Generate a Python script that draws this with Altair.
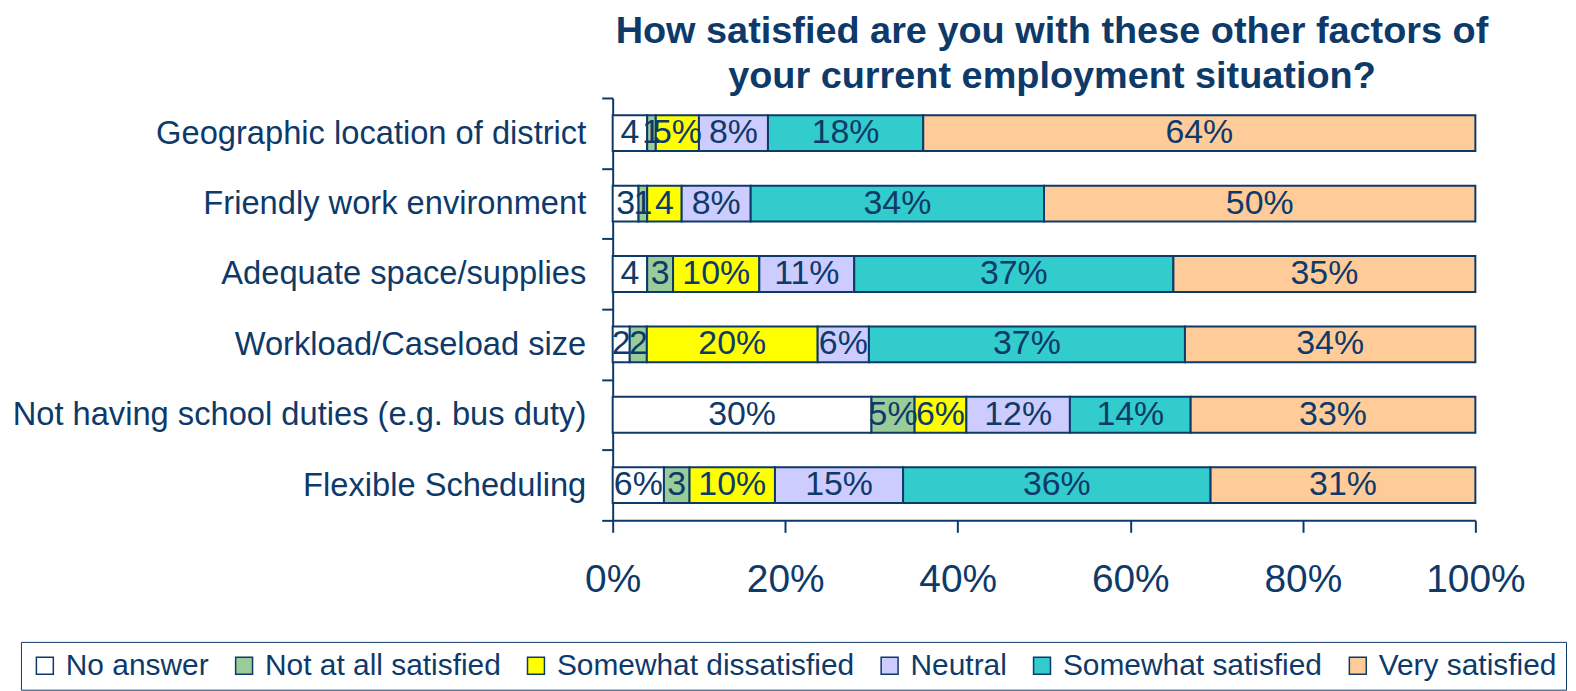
import altair as alt
import pandas as pd

factors = [
    "Geographic location of district",
    "Friendly work environment",
    "Adequate space/supplies",
    "Workload/Caseload size",
    "Not having school duties (e.g. bus duty)",
    "Flexible Scheduling",
]
responses = [
    "No answer",
    "Not at all satisfied",
    "Somewhat dissatisfied",
    "Neutral",
    "Somewhat satisfied",
    "Very satisfied",
]
colors = ["#FFFFFF", "#99CC99", "#FFFF00", "#CCCCFF", "#33CCCC", "#FFCC99"]

# percentages per response, in factor order
no_answer = [4, 3, 4, 2, 30, 6]
not_at_all = [1, 1, 3, 2, 5, 3]
somewhat_dis = [5, 4, 10, 20, 6, 10]
neutral = [8, 8, 11, 6, 12, 15]
somewhat_sat = [18, 34, 37, 37, 14, 36]
very_sat = [64, 50, 35, 34, 33, 31]

# data labels as printed on the chart
no_answer_lbl = ["4", "3", "4", "2", "30%", "6%"]
not_at_all_lbl = ["1", "1", "3", "2", "5%", "3"]
somewhat_dis_lbl = ["5%", "4", "10%", "20%", "6%", "10%"]
neutral_lbl = ["8%", "8%", "11%", "6%", "12%", "15%"]
somewhat_sat_lbl = ["18%", "34%", "37%", "37%", "14%", "36%"]
very_sat_lbl = ["64%", "50%", "35%", "34%", "33%", "31%"]

series = [no_answer, not_at_all, somewhat_dis, neutral, somewhat_sat, very_sat]
labels = [no_answer_lbl, not_at_all_lbl, somewhat_dis_lbl, neutral_lbl,
          somewhat_sat_lbl, very_sat_lbl]

rows = []
for i, f in enumerate(factors):
    for j, r in enumerate(responses):
        rows.append(dict(factor=f, response=r, order=j,
                         value=series[j][i], label=labels[j][i]))
df = pd.DataFrame(rows)

navy = "#0E3A6A"
FONT = "Liberation Sans"

base = alt.Chart(df).transform_stack(
    stack="value",
    groupby=["factor"],
    as_=["s", "e"],
    offset="normalize",
    sort=[alt.SortField("order", order="ascending")],
).transform_calculate(mid="(datum.s + datum.e) / 2")

y_scale = alt.Scale(paddingInner=0, paddingOuter=0)

y_enc = alt.Y(
    "factor:N",
    sort=factors,
    title=None,
    scale=y_scale,
    axis=alt.Axis(
        tickBand="extent",
        labelFontSize=32.8,
        labelColor=navy,
        labelFont=FONT,
        labelPadding=16,
        labelLimit=700,
        tickSize=11,
        tickColor=navy,
        tickWidth=2,
        domainColor=navy,
        domainWidth=2,
    ),
)

x_scale = alt.Scale(domain=[0, 1], nice=False)

bars = base.mark_bar(stroke=navy, strokeWidth=2, height=36).encode(
    x=alt.X(
        "s:Q",
        scale=x_scale,
        title=None,
        axis=alt.Axis(
            values=[0, 0.2, 0.4, 0.6, 0.8, 1.0],
            format="%",
            labelFontSize=39,
            labelColor=navy,
            labelFont=FONT,
            labelPadding=28,
            labelFlush=False,
            labelOverlap=False,
            tickSize=12,
            tickColor=navy,
            tickWidth=2,
            domainColor=navy,
            domainWidth=2,
            grid=False,
        ),
    ),
    x2="e:Q",
    y=y_enc,
    color=alt.Color(
        "response:N",
        scale=alt.Scale(domain=responses, range=colors),
        sort=responses,
        title=None,
        legend=alt.Legend(
            orient="none",
            legendX=-594,
            legendY=546,
            direction="horizontal",
            columns=6,
            symbolType="square",
            symbolSize=289,
            symbolStrokeColor=navy,
            symbolStrokeWidth=1.5,
            labelFontSize=30,
            labelColor=navy,
            labelFont=FONT,
            labelOffset=6,
            labelLimit=500,
            columnPadding=20,
            padding=9,
            strokeColor=navy,
            fillColor="white",
        ),
    ),
)

text = base.mark_text(fontSize=34, color=navy, font=FONT).encode(
    x=alt.X("mid:Q", scale=x_scale, title=None),
    y=alt.Y("factor:N", sort=factors, scale=y_scale, title=None),
    text="label:N",
)

chart = (
    alt.layer(bars, text)
    .properties(
        width=866,
        height=424,
        padding={"left": 607, "top": 89, "right": 93, "bottom": 170},
        autosize=alt.AutoSizeParams(type="none"),
        title=alt.TitleParams(
            text=["How satisfied are you with these other factors of",
                  "your current employment situation?"],
            fontSize=38,
            fontWeight="bold",
            color=navy,
            font=FONT,
            anchor="middle",
            lineHeight=45,
            offset=4,
            dy=18,
            dx=8,
        ),
    )
    .configure_view(stroke=None)
)

chart.save("out.html", embed_options={"renderer": "svg", "actions": False})
